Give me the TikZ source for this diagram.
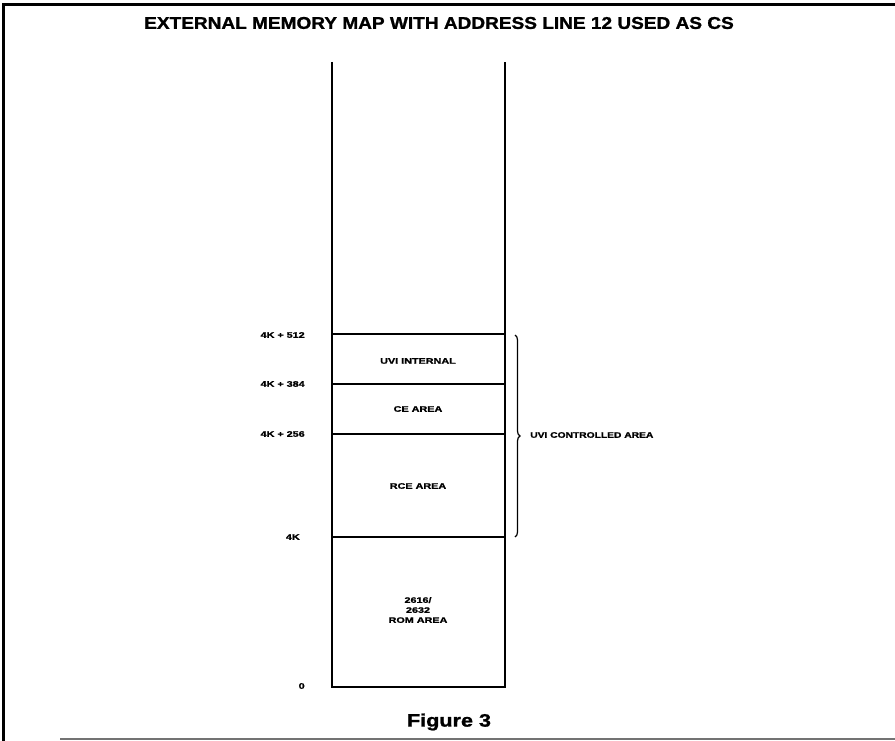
\documentclass[tikz,border=0pt]{standalone}
\usepackage{fontspec}
\setmainfont[BoldFeatures={FakeBold=1.2}]{Liberation Sans}
\usetikzlibrary{decorations.pathreplacing}
\begin{document}
\begin{tikzpicture}[x=1pt,y=-1pt,
  frame/.style={line width=3pt,black},
  col/.style={line width=1.8pt,black},
  divider/.style={line width=1.6pt,black},
  addr/.style={font=\fontsize{8}{9}\selectfont\bfseries,anchor=east,inner sep=0pt,xscale=1.35},
  area/.style={font=\fontsize{8}{10}\selectfont\bfseries,inner sep=0pt,align=center,xscale=1.35},
  bigtext/.style={font=\fontsize{17}{20}\selectfont\bfseries,inner sep=0pt}]
\useasboundingbox (0,0) rectangle (895,741);
% outer frame
\draw[frame] (3,741) -- (3,5) -- (895,5);
\draw[line width=1.5pt,black!55] (60,739) -- (895,739);
% title
\node[bigtext,xscale=1.12] (title) at (439,23) {EXTERNAL MEMORY MAP WITH ADDRESS LINE 12 USED AS CS};
% column levels
\coordinate (tl) at (332,62);
\coordinate (tr) at (505,62);
\coordinate (l512) at (332,334); \coordinate (r512) at (505,334);
\coordinate (l384) at (332,384); \coordinate (r384) at (505,384);
\coordinate (l256) at (332,434); \coordinate (r256) at (505,434);
\coordinate (l4k) at (332,537);  \coordinate (r4k) at (505,537);
\coordinate (l0) at (332,687);   \coordinate (r0) at (505,687);
% column outline
\draw[col] (tl) -- (l0) -- (r0) -- (tr);
\draw[divider] (l512) -- (r512);
\draw[divider] (l384) -- (r384);
\draw[divider] (l256) -- (r256);
\draw[divider] (l4k) -- (r4k);
% addresses
\node[addr] (a512) at (305,335) {4K + 512};
\node[addr] (a384) at (305,384) {4K + 384};
\node[addr] (a256) at (305,434) {4K + 256};
\node[addr] (a4k) at (300,537) {4K};
\node[addr] (a0) at (305,686) {0};
% area labels
\node[area] (uvi) at (418,361) {UVI INTERNAL};
\node[area] (ce) at (418,409) {CE AREA};
\node[area] (rce) at (418,486) {RCE AREA};
\node[area] (rom) at (418,610) {2616/\\2632\\ROM AREA};
% brace over the UVI controlled range
\coordinate (bt) at (515,335);
\coordinate (bb) at (515,537);
\draw[line width=1.2pt,decorate,decoration={brace,amplitude=5pt}] (bt) -- (bb);
\node[area,anchor=west,xscale=0.95] (ctrl) at (530,435) {UVI CONTROLLED AREA};
% caption
\node[bigtext,font=\fontsize{18}{20}\selectfont\bfseries,xscale=1.2] (cap) at (449,722) {Figure 3};
\end{tikzpicture}
\end{document}
